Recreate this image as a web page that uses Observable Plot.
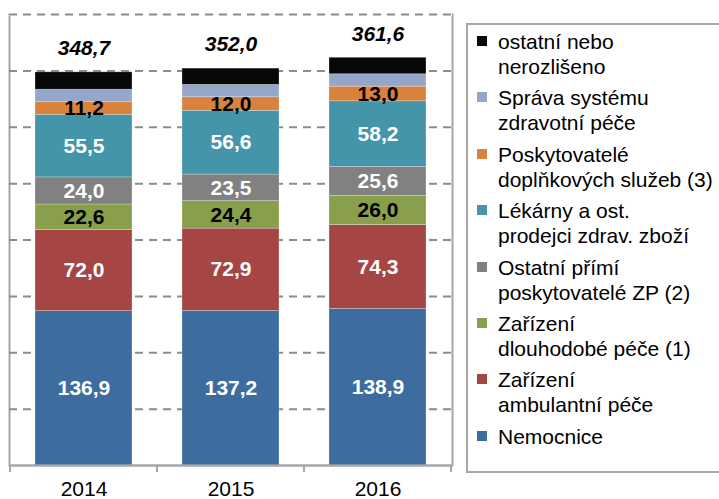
<!DOCTYPE html>
<html>
<head>
<meta charset="utf-8">
<script src="https://cdn.jsdelivr.net/npm/d3@7"></script>
<script src="https://cdn.jsdelivr.net/npm/@observablehq/plot@0.6"></script>
<style>
  html, body { margin: 0; padding: 0; background: #fff; }
  #wrap { position: relative; width: 719px; height: 499px; overflow: hidden; font-family: "Liberation Sans", Arial, sans-serif; }
  #legend { position: absolute; left: 466px; top: 23px; width: 270px; height: 450px; border: 2px solid #a6a6a6; box-sizing: border-box; padding-top: 4px; }
  .item { position: relative; height: 56.4px; box-sizing: border-box; }
  .sw { position: absolute; left: 9px; top: 7px; width: 10px; height: 10px; }
  .lbl { position: absolute; left: 30px; top: 0; font-size: 21px; line-height: 25px; color: #000; white-space: nowrap; }
</style>
</head>
<body>
<div id="wrap"></div>
<script>
const years = ["2014", "2015", "2016"];
const categories = [
  "Nemocnice",
  "Zařízení ambulantní péče",
  "Zařízení dlouhodobé péče (1)",
  "Ostatní přímí poskytovatelé ZP (2)",
  "Lékárny a ost. prodejci zdrav. zboží",
  "Poskytovatelé doplňkových služeb (3)",
  "Správa systému zdravotní péče",
  "ostatní nebo nerozlišeno"
];
const legendLines = [
  ["Nemocnice"],
  ["Zařízení", "ambulantní péče"],
  ["Zařízení", "dlouhodobé péče (1)"],
  ["Ostatní přímí", "poskytovatelé ZP (2)"],
  ["Lékárny a ost.", "prodejci zdrav. zboží"],
  ["Poskytovatelé", "doplňkových služeb (3)"],
  ["Správa systému", "zdravotní péče"],
  ["ostatní nebo", "nerozlišeno"]
];
const colors = ["#3d6d9e", "#a54644", "#88a04c", "#818181", "#4495a9", "#d8823e", "#94a7cb", "#080808"];
const labelColors = ["white", "white", "black", "white", "white", "black", null, null];

const nemocnice    = [136.9, 137.2, 138.9];
const ambulantni   = [72.0, 72.9, 74.3];
const dlouhodobe   = [22.6, 24.4, 26.0];
const ostatniPrimi = [24.0, 23.5, 25.6];
const lekarny      = [55.5, 56.6, 58.2];
const doplnkove    = [11.2, 12.0, 13.0];
const sprava       = [11.1, 11.0, 11.0];
const ostatni      = [15.4, 14.4, 14.6];
const totals       = [348.7, 352.0, 361.6];
const yTicks = [50, 100, 150, 200, 250, 300, 350];

const series = [nemocnice, ambulantni, dlouhodobe, ostatniPrimi, lekarny, doplnkove, sprava, ostatni];
const data = [];
categories.forEach((c, ci) => years.forEach((y, yi) => data.push({year: y, cat: c, ci, value: series[ci][yi]})));
const totalData = years.map((y, i) => ({year: y, total: totals[i]}));
const fmt = v => d3.format(".1f")(v).replace(".", ",");

const boundaryTicks = (index, scales) => {
  const x = scales.x;
  const g = d3.create("svg:g").attr("stroke", "#a6a6a6").attr("stroke-width", 2);
  const y0 = scales.y(0);
  const xs = years.map(y => x(y) - (x.step() - x.bandwidth()) / 2);
  xs.push(x(years[years.length - 1]) + x.bandwidth() + (x.step() - x.bandwidth()) / 2);
  for (const px of xs) g.append("line").attr("x1", px).attr("x2", px).attr("y1", y0).attr("y2", y0 + 7);
  return g.node();
};

const chart = Plot.plot({
  width: 719,
  height: 499,
  marginLeft: 9,
  marginRight: 267,
  marginTop: 14,
  marginBottom: 34,
  style: {fontFamily: "'Liberation Sans', Arial, sans-serif", background: "white"},
  x: {domain: years, paddingInner: 0.337, paddingOuter: 0.1685, label: null},
  y: {domain: [0, 400], axis: null},
  color: {domain: categories, range: colors},
  marks: [
    Plot.frame({stroke: "#a6a6a6", strokeWidth: 2}),
    Plot.ruleY([400], {stroke: "white", strokeWidth: 3}),
    Plot.ruleY([...yTicks, 400], {stroke: "#8c8c8c", strokeWidth: 2, strokeDasharray: "8,6"}),
    Plot.barY(data, Plot.stackY({x: "year", y: "value", z: "cat", fill: "cat", order: categories, stroke: "#ffffff", strokeOpacity: 0.35, strokeWidth: 0.7})),
    Plot.text(data, Plot.stackY({
      x: "year", y: "value", z: "cat", order: categories,
      filter: d => labelColors[d.ci] != null,
      text: d => fmt(d.value),
      fill: d => labelColors[d.ci],
      fontSize: 21, fontWeight: "bold"
    })),
    Plot.text(totalData, {x: "year", y: "total", text: d => fmt(d.total), dy: -24, fontSize: 21, fontWeight: "bold", fontStyle: "italic", fill: "black"}),
    Plot.ruleY([0], {stroke: "#a6a6a6", strokeWidth: 2}),
    boundaryTicks,
    Plot.axisX({tickSize: 0, tickPadding: 16, fontSize: 21, fill: "black", label: null})
  ]
});

const wrap = document.getElementById("wrap");
wrap.appendChild(chart);

const legend = document.createElement("div");
legend.id = "legend";
for (let i = categories.length - 1; i >= 0; i--) {
  const item = document.createElement("div");
  item.className = "item";
  const sw = document.createElement("div");
  sw.className = "sw";
  sw.style.background = colors[i];
  const lbl = document.createElement("div");
  lbl.className = "lbl";
  lbl.innerHTML = legendLines[i].join("<br>");
  item.appendChild(sw);
  item.appendChild(lbl);
  legend.appendChild(item);
}
wrap.appendChild(legend);
</script>
</body>
</html>
